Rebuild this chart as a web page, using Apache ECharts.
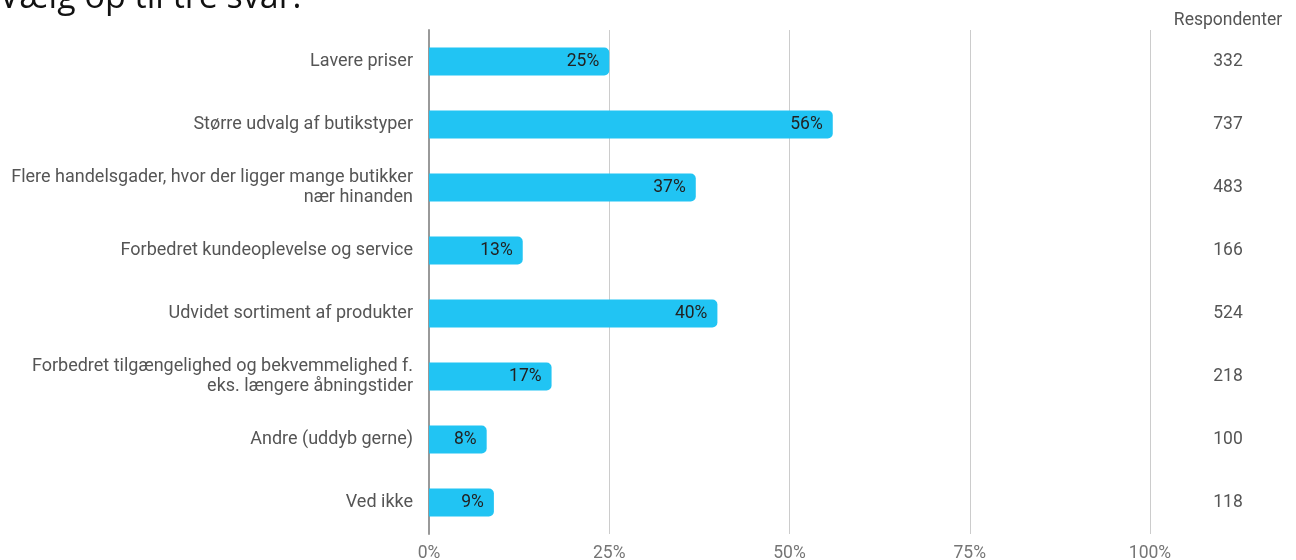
<!DOCTYPE html>
<html>
<head>
<meta charset="utf-8">
<script src="https://cdn.jsdelivr.net/npm/echarts@6/dist/echarts.min.js"></script>
<style>
html,body{margin:0;padding:0;background:#fff;}
#chart{width:1296px;height:560px;}
</style>
</head>
<body>
<div id="chart"></div>
<script>
const categories = [
  "Lavere priser",
  "Større udvalg af butikstyper",
  "Flere handelsgader, hvor der ligger mange butikker\nnær hinanden",
  "Forbedret kundeoplevelse og service",
  "Udvidet sortiment af produkter",
  "Forbedret tilgængelighed og bekvemmelighed f.\neks. længere åbningstider",
  "Andre (uddyb gerne)",
  "Ved ikke"
];
const percentValues = [25, 56, 37, 13, 40, 17, 8, 9];
const respondents = [332, 737, 483, 166, 524, 218, 100, 118];
const xTicks = [0, 25, 50, 75, 100];
const titleText = "Vælg op til tre svar.";

const chart = echarts.init(document.getElementById('chart'));
const font = 'Roboto';
chart.setOption({
  animation: false,
  textStyle: { fontFamily: font },
  graphic: [{
    type: 'text', left: -1, top: -19,
    style: { text: titleText, font: '400 34px "Open Sans"', fill: '#111' }
  }],
  grid: { left: 429, right: 146, top: 30, bottom: 26, containLabel: false, outerBoundsMode: 'none' },
  xAxis: {
    type: 'value', min: 0, max: 100, interval: 25,
    axisLine: { show: false }, axisTick: { show: false },
    splitLine: { show: true, lineStyle: { color: '#cccccc', width: 1 } },
    axisLabel: { formatter: v => xTicks.includes(v) ? v + '%' : '', color: '#757575', fontSize: 17.5, margin: 11, fontFamily: font }
  },
  yAxis: [{
    type: 'category', data: categories, inverse: true,
    axisLine: { show: true, lineStyle: { color: '#999999', width: 2 } },
    axisTick: { show: false },
    axisLabel: { color: '#555555', fontSize: 18, margin: 16, lineHeight: 20, align: 'right', fontFamily: font, padding: [6, 0, 0, 0] }
  }, {
    type: 'category', data: respondents.map(String), inverse: true, position: 'right', offset: 78,
    axisLine: { show: false }, axisTick: { show: false },
    axisLabel: { color: '#555555', fontSize: 17.5, margin: 0, align: 'center', fontFamily: font, padding: [5, 0, 0, 0] },
    name: 'Respondenter', nameLocation: 'start', nameGap: 0,
    nameTextStyle: { color: '#555555', fontSize: 17.5, align: 'center', fontFamily: font }
  }],
  series: [{
    type: 'bar', data: percentValues, barWidth: 28, yAxisIndex: 0,
    itemStyle: { color: '#21c4f3', borderRadius: [0, 5, 5, 0] },
    label: { show: true, position: 'insideRight', formatter: p => p.value + '%', color: '#222', fontSize: 17.5, distance: 10, fontFamily: font, padding: [3, 0, 0, 0] }
  }]
});
</script>
</body>
</html>
